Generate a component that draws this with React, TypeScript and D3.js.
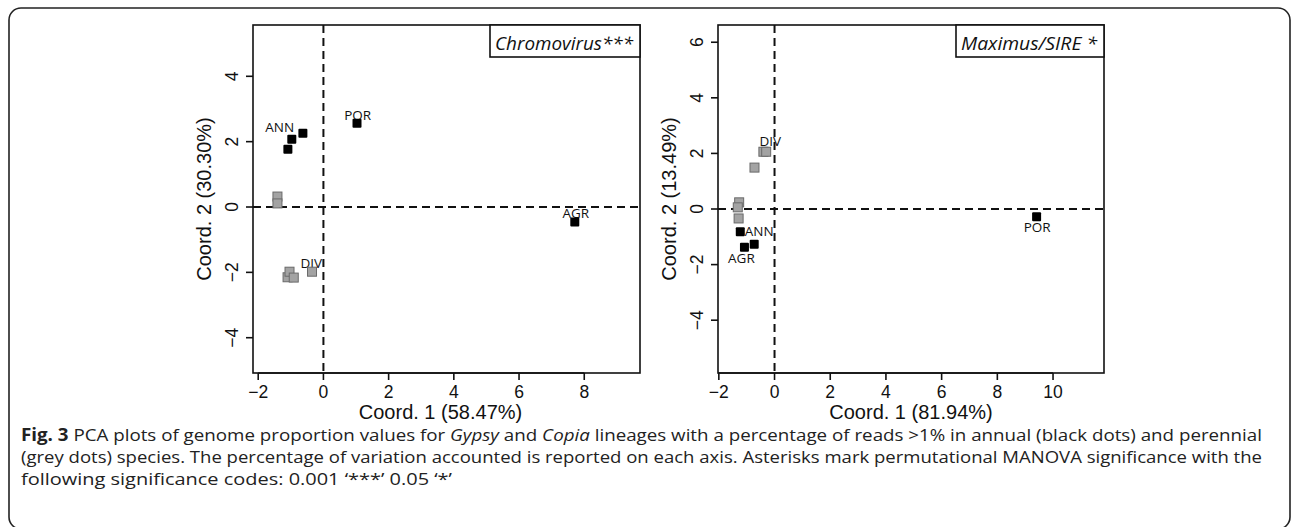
import React from 'react';
import * as d3 from 'd3';

// ---------- Data ----------
// Left panel: Chromovirus***
const chromoBlackX = [-0.97, -0.63, -1.09, 1.03, 7.71];
const chromoBlackY = [2.07, 2.26, 1.77, 2.56, -0.46];
const chromoGreyX = [-1.41, -1.41, -1.1, -1.04, -0.91, -0.35];
const chromoGreyY = [0.32, 0.11, -2.15, -1.98, -2.16, -1.98];
const chromoLabels = ['ANN', 'POR', 'AGR', 'DIV'];
const chromoLabelX = [-1.34, 1.05, 7.74, -0.37];
const chromoLabelY = [2.45, 2.82, -0.19, -1.72];
const chromoXTicks = [-2, 0, 2, 4, 6, 8];
const chromoYTicks = [-4, -2, 0, 2, 4];
const chromoXDomain = [-2.16, 9.71];
const chromoYDomain = [-5.08, 5.57];

// Right panel: Maximus/SIRE *
const sireBlackX = [-1.23, -0.73, -1.08, 9.41];
const sireBlackY = [-0.82, -1.27, -1.38, -0.28];
const sireGreyX = [-1.27, -1.32, -1.29, -0.72, -0.4, -0.3];
const sireGreyY = [0.24, 0.06, -0.34, 1.49, 2.06, 2.06];
const sireLabels = ['DIV', 'ANN', 'AGR', 'POR'];
const sireLabelX = [-0.15, -0.55, -1.19, 9.43];
const sireLabelY = [2.45, -0.79, -1.77, -0.67];
const sireXTicks = [-2, 0, 2, 4, 6, 8, 10];
const sireYTicks = [-4, -2, 0, 2, 4, 6];
const sireXDomain = [-2.03, 11.83];
const sireYDomain = [-5.9, 6.62];

const titles = ['Chromovirus***', 'Maximus/SIRE *'];
const xTitles = ['Coord. 1 (58.47%)', 'Coord. 1 (81.94%)'];
const yTitles = ['Coord. 2 (30.30%)', 'Coord. 2 (13.49%)'];

const W = 1292;
const H = 527;
const AX_FONT = '"Liberation Sans", Arial, sans-serif';
const LBL_FONT = '"Open Sans", "DejaVu Sans", sans-serif';

type PanelProps = {
  box: { x0: number; x1: number; y0: number; y1: number };
  xDomain: number[];
  yDomain: number[];
  xTicks: number[];
  yTicks: number[];
  blackX: number[];
  blackY: number[];
  greyX: number[];
  greyY: number[];
  labels: string[];
  labelX: number[];
  labelY: number[];
  title: string;
  titleWidth: number;
  xTitle: string;
  xTitleShift: number;
  yTitle: string;
  clipId: string;
};

const fmt = (v: number) => (v < 0 ? '\u2212' + Math.abs(v) : String(v));

function Panel(p: PanelProps) {
  const { box } = p;
  const x = d3.scaleLinear().domain(p.xDomain).range([box.x0, box.x1]);
  const y = d3.scaleLinear().domain(p.yDomain).range([box.y1, box.y0]);
  const sq = 9;
  const legendH = 32;
  const legendW = p.titleWidth + 12;
  return (
    <g>
      <defs>
        <clipPath id={p.clipId}>
          <rect x={box.x0} y={box.y0} width={box.x1 - box.x0} height={box.y1 - box.y0} />
        </clipPath>
      </defs>
      {/* dashed reference lines */}
      <g clipPath={`url(#${p.clipId})`} stroke="#111" strokeWidth={2} strokeDasharray="8,5">
        <line x1={box.x0} x2={box.x1} y1={y(0)} y2={y(0)} />
        <line x1={x(0)} x2={x(0)} y1={box.y0} y2={box.y1} />
      </g>
      {/* labels */}
      {p.labels.map((l, i) => (
        <text
          key={l}
          x={x(p.labelX[i])}
          y={y(p.labelY[i])}
          dy="0.36em"
          textAnchor="middle"
          fontFamily={LBL_FONT}
          fontSize={13.5}
          fill="#111"
        >
          {l}
        </text>
      ))}
      {/* grey squares (perennial) */}
      {p.greyX.map((v, i) => (
        <rect
          key={'g' + i}
          x={x(v) - sq / 2}
          y={y(p.greyY[i]) - sq / 2}
          width={sq}
          height={sq}
          fill="#a3a3a3"
          stroke="#6a6a6a"
          strokeWidth={1}
        />
      ))}
      {/* black squares (annual) */}
      {p.blackX.map((v, i) => (
        <rect
          key={'b' + i}
          x={x(v) - sq / 2}
          y={y(p.blackY[i]) - sq / 2}
          width={sq}
          height={sq}
          rx={1}
          fill="#000"
        />
      ))}
      {/* plot box */}
      <rect
        x={box.x0}
        y={box.y0}
        width={box.x1 - box.x0}
        height={box.y1 - box.y0}
        fill="none"
        stroke="#111"
        strokeWidth={1.6}
      />
      {/* legend box */}
      <rect
        x={box.x1 - legendW}
        y={box.y0}
        width={legendW}
        height={legendH}
        fill="#fff"
        stroke="#111"
        strokeWidth={1.6}
      />
      <text
        x={box.x1 - legendW + 5}
        y={box.y0 + 25}
        fontFamily={LBL_FONT}
        fontStyle="italic"
        fontSize={18}
        textLength={p.titleWidth}
        lengthAdjust="spacingAndGlyphs"
        fill="#111"
      >
        {p.title}
      </text>
      {/* x axis */}
      <g fontFamily={AX_FONT} fontSize={17.5} fill="#111">
        {p.xTicks.map((t) => (
          <g key={'xt' + t}>
            <line x1={x(t)} x2={x(t)} y1={box.y1} y2={box.y1 + 7} stroke="#111" strokeWidth={1.6} />
            <text x={x(t)} y={box.y1 + 25} textAnchor="middle">
              {fmt(t)}
            </text>
          </g>
        ))}
        <line
          x1={x(p.xTicks[0])}
          x2={x(p.xTicks[p.xTicks.length - 1])}
          y1={box.y1}
          y2={box.y1}
          stroke="#111"
          strokeWidth={1.6}
        />
        <text
          x={(box.x0 + box.x1) / 2 + p.xTitleShift}
          y={box.y1 + 46}
          textAnchor="middle"
          fontSize={20}
        >
          {p.xTitle}
        </text>
      </g>
      {/* y axis */}
      <g fontFamily={AX_FONT} fontSize={17.5} fill="#111">
        {p.yTicks.map((t) => (
          <g key={'yt' + t}>
            <line x1={box.x0 - 7} x2={box.x0} y1={y(t)} y2={y(t)} stroke="#111" strokeWidth={1.6} />
            <text
              transform={`translate(${box.x0 - 15},${y(t)}) rotate(-90)`}
              textAnchor="middle"
            >
              {fmt(t)}
            </text>
          </g>
        ))}
        <text
          transform={`translate(${box.x0 - 42},${(box.y0 + box.y1) / 2}) rotate(-90)`}
          textAnchor="middle"
          fontSize={20}
        >
          {p.yTitle}
        </text>
      </g>
    </g>
  );
}

export default function App() {
  return (
    <svg
      width={W}
      height={H}
      viewBox={`0 0 ${W} ${H}`}
      style={{ position: 'absolute', left: 0, top: 0, background: '#fff' }}
    >
      <rect x={0} y={0} width={W} height={H} fill="#fff" />
      {/* outer rounded frame */}
      <rect x={9} y={8} width={1281} height={521} rx={12} ry={12} fill="none" stroke="#222" strokeWidth={1.6} />
      <Panel
        box={{ x0: 253, x1: 640, y0: 25, y1: 373 }}
        xDomain={chromoXDomain}
        yDomain={chromoYDomain}
        xTicks={chromoXTicks}
        yTicks={chromoYTicks}
        blackX={chromoBlackX}
        blackY={chromoBlackY}
        greyX={chromoGreyX}
        greyY={chromoGreyY}
        labels={chromoLabels}
        labelX={chromoLabelX}
        labelY={chromoLabelY}
        title={titles[0]}
        titleWidth={138}
        xTitle={xTitles[0]}
        xTitleShift={-6}
        yTitle={yTitles[0]}
        clipId="clipL"
      />
      <Panel
        box={{ x0: 718, x1: 1104, y0: 25, y1: 373 }}
        xDomain={sireXDomain}
        yDomain={sireYDomain}
        xTicks={sireXTicks}
        yTicks={sireYTicks}
        blackX={sireBlackX}
        blackY={sireBlackY}
        greyX={sireGreyX}
        greyY={sireGreyY}
        labels={sireLabels}
        labelX={sireLabelX}
        labelY={sireLabelY}
        title={titles[1]}
        titleWidth={136}
        xTitle={xTitles[1]}
        xTitleShift={0}
        yTitle={yTitles[1]}
        clipId="clipR"
      />
      {/* caption */}
      <g fontFamily={LBL_FONT} fontSize={17} fill="#222">
        <text x={21} y={441} textLength={1241} lengthAdjust="spacingAndGlyphs">
          <tspan fontWeight="bold">Fig. 3</tspan> PCA plots of genome proportion values for{' '}
          <tspan fontStyle="italic">Gypsy</tspan> and <tspan fontStyle="italic">Copia</tspan> lineages with a
          percentage of reads &gt;1% in annual (black dots) and perennial
        </text>
        <text x={21} y={463} textLength={1241} lengthAdjust="spacingAndGlyphs">
          (grey dots) species. The percentage of variation accounted is reported on each axis. Asterisks mark
          permutational MANOVA significance with the
        </text>
        <text x={21} y={485} textLength={431} lengthAdjust="spacingAndGlyphs">
          following significance codes: 0.001 ‘***’ 0.05 ‘*’
        </text>
      </g>
    </svg>
  );
}
